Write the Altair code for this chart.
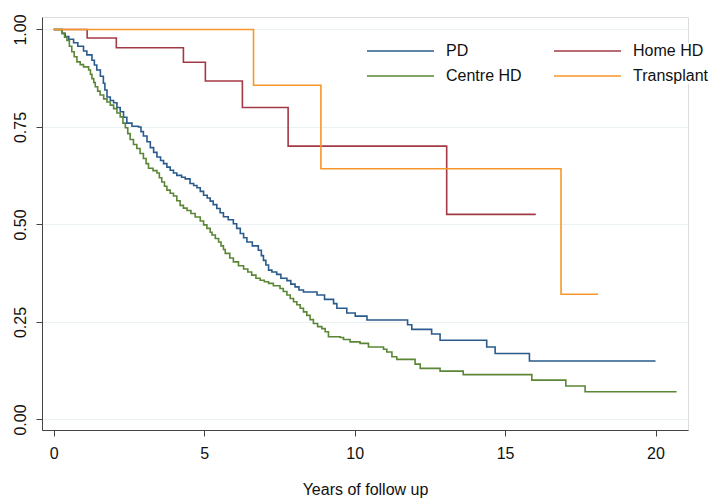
import altair as alt
import pandas as pd

# ---- data (Kaplan-Meier step functions) ----
pd_t = [0.00, 0.28, 0.38, 0.50, 0.66, 0.80, 0.99, 1.10, 1.27, 1.35, 1.43, 1.55, 1.65, 1.70, 1.77,
        1.88, 1.99, 2.10, 2.21, 2.32, 2.43, 2.60, 2.82, 2.90, 2.98, 3.10, 3.21, 3.32, 3.43, 3.55,
        3.65, 3.76, 3.87, 3.98, 4.09, 4.25, 4.37, 4.53, 4.65, 4.76, 4.87, 4.98, 5.10, 5.20, 5.30,
        5.42, 5.53, 5.64, 5.80, 5.97, 6.08, 6.20, 6.31, 6.42, 6.60, 6.80, 6.90, 6.97, 7.05, 7.14,
        7.25, 7.41, 7.55, 7.75, 7.88, 8.02, 8.15, 8.30, 8.75, 9.00, 9.30, 9.41, 9.74, 10.02, 10.41,
        11.76, 11.90, 12.56, 12.84, 14.39, 14.67, 15.81, 20.00]
pd_s = [1.000, 0.990, 0.982, 0.975, 0.966, 0.957, 0.945, 0.935, 0.921, 0.909, 0.896, 0.880, 0.862, 0.845, 0.827,
        0.818, 0.812, 0.800, 0.789, 0.775, 0.760, 0.752, 0.750, 0.738, 0.727, 0.712, 0.697, 0.685, 0.673, 0.664,
        0.656, 0.647, 0.639, 0.632, 0.626, 0.621, 0.617, 0.605, 0.600, 0.594, 0.585, 0.575, 0.568, 0.560, 0.551,
        0.541, 0.530, 0.520, 0.512, 0.502, 0.490, 0.477, 0.466, 0.455, 0.445, 0.434, 0.420, 0.408, 0.396, 0.383,
        0.378, 0.372, 0.362, 0.356, 0.347, 0.340, 0.332, 0.327, 0.319, 0.308, 0.297, 0.285, 0.273, 0.265, 0.255,
        0.243, 0.231, 0.219, 0.203, 0.186, 0.169, 0.150, 0.150]

chd_t = [0.00, 0.28, 0.36, 0.44, 0.52, 0.60, 0.68, 0.77, 0.88, 0.99, 1.16, 1.22, 1.27, 1.33, 1.38,
         1.46, 1.54, 1.66, 1.77, 1.88, 1.99, 2.10, 2.21, 2.30, 2.38, 2.46, 2.54, 2.65, 2.76, 2.87,
         2.98, 3.07, 3.15, 3.30, 3.43, 3.51, 3.59, 3.68, 3.76, 3.87, 3.98, 4.09, 4.20, 4.31, 4.43,
         4.56, 4.70, 4.87, 4.98, 5.09, 5.20, 5.26, 5.37, 5.48, 5.56, 5.64, 5.70, 5.85, 5.97, 6.14,
         6.31, 6.45, 6.58, 6.72, 6.86, 7.00, 7.14, 7.30, 7.52, 7.63, 7.75, 7.86, 7.97, 8.08, 8.19,
         8.30, 8.41, 8.52, 8.63, 8.77, 8.91, 9.02, 9.13, 9.52, 9.63, 9.85, 10.18, 10.46, 10.96, 11.07,
         11.24, 11.40, 12.01, 12.18, 12.84, 13.61, 15.89, 17.02, 17.66, 20.70]
chd_s = [1.000, 0.990, 0.980, 0.972, 0.957, 0.943, 0.930, 0.917, 0.910, 0.904, 0.896, 0.885, 0.874, 0.864, 0.853,
         0.842, 0.832, 0.822, 0.814, 0.806, 0.797, 0.786, 0.776, 0.760, 0.748, 0.733, 0.718, 0.705, 0.695, 0.682,
         0.669, 0.656, 0.644, 0.638, 0.632, 0.620, 0.609, 0.598, 0.588, 0.580, 0.573, 0.561, 0.549, 0.542, 0.536,
         0.528, 0.519, 0.509, 0.499, 0.490, 0.480, 0.473, 0.464, 0.455, 0.445, 0.436, 0.426, 0.414, 0.404, 0.394,
         0.386, 0.378, 0.370, 0.362, 0.357, 0.353, 0.349, 0.343, 0.336, 0.328, 0.319, 0.310, 0.302, 0.294, 0.285,
         0.276, 0.267, 0.256, 0.246, 0.238, 0.233, 0.225, 0.212, 0.210, 0.205, 0.199, 0.195, 0.186, 0.180, 0.173,
         0.161, 0.154, 0.142, 0.131, 0.124, 0.115, 0.101, 0.086, 0.071, 0.071]

hhd_t = [0.00, 1.11, 2.08, 4.31, 5.04, 6.27, 7.79, 13.06, 16.02]
hhd_s = [1.000, 0.978, 0.953, 0.916, 0.868, 0.800, 0.701, 0.526, 0.526]

tx_t = [0.00, 6.64, 8.88, 16.86, 18.09]
tx_s = [1.000, 0.857, 0.643, 0.321, 0.321]

# legend fills column by column: PD / Centre HD, then Home HD / Transplant
groups = ["PD", "Centre HD", "Home HD", "Transplant"]
colors = ["#2a5b8c", "#5a8636", "#a23a45", "#f5972a"]
x_ticks = [0, 5, 10, 15, 20]
y_ticks = [0.0, 0.25, 0.5, 0.75, 1.0]

draw_order = ["PD", "Home HD", "Centre HD", "Transplant"]
rows = []
for name, ts, ss in [("PD", pd_t, pd_s), ("Home HD", hhd_t, hhd_s),
                     ("Centre HD", chd_t, chd_s), ("Transplant", tx_t, tx_s)]:
    for i, (t, s) in enumerate(zip(ts, ss)):
        rows.append({"group": name, "order": draw_order.index(name), "t": t, "s": s, "i": i})
df = pd.DataFrame(rows)

FONT = "Liberation Sans"

chart = alt.Chart(df).mark_line(interpolate="step-after", strokeWidth=1.6).encode(
    x=alt.X("t:Q",
            scale=alt.Scale(domain=[-0.39, 21.08], nice=False, zero=False),
            axis=alt.Axis(values=x_ticks, title="Years of follow up", grid=False,
                          tickSize=6, labelPadding=9, labelFontSize=16, titleFontSize=16,
                          titleFontWeight="normal", titleY=64, titleBaseline="alphabetic",
                          labelFont=FONT, titleFont=FONT, labelColor="#111", titleColor="#111",
                          domainColor="#444", tickColor="#444")),
    y=alt.Y("s:Q",
            scale=alt.Scale(domain=[-0.027, 1.032], nice=False, zero=False),
            axis=alt.Axis(values=y_ticks, format=".2f", title=None, grid=True,
                          gridColor="#eaf2f3", gridWidth=1.2,
                          tickSize=6, labelAngle=270, labelAlign="center",
                          labelBaseline="alphabetic", labelPadding=11, labelFontSize=16,
                          labelFont=FONT, labelColor="#111",
                          domainColor="#444", tickColor="#444")),
    color=alt.Color("group:N",
                    scale=alt.Scale(domain=groups, range=colors),
                    legend=alt.Legend(title=None, orient="none", legendX=324, legendY=26,
                                      columns=2, symbolType="stroke", symbolSize=4489,
                                      symbolStrokeWidth=1.6, clipHeight=16, rowPadding=9,
                                      columnPadding=31, labelOffset=11, labelFontSize=16,
                                      labelFont=FONT, labelColor="#111", padding=0,
                                      fillColor="white")),
    order=alt.Order("i:Q"),
    detail="order:O",
).properties(
    width=646, height=413,
    autosize=alt.AutoSizeParams(type="none"),
    padding={"left": 42, "top": 17, "right": 36, "bottom": 68},
).configure_view(stroke=None).configure(background="white")

chart.save("out.html", embed_options={"renderer": "svg", "actions": False})
